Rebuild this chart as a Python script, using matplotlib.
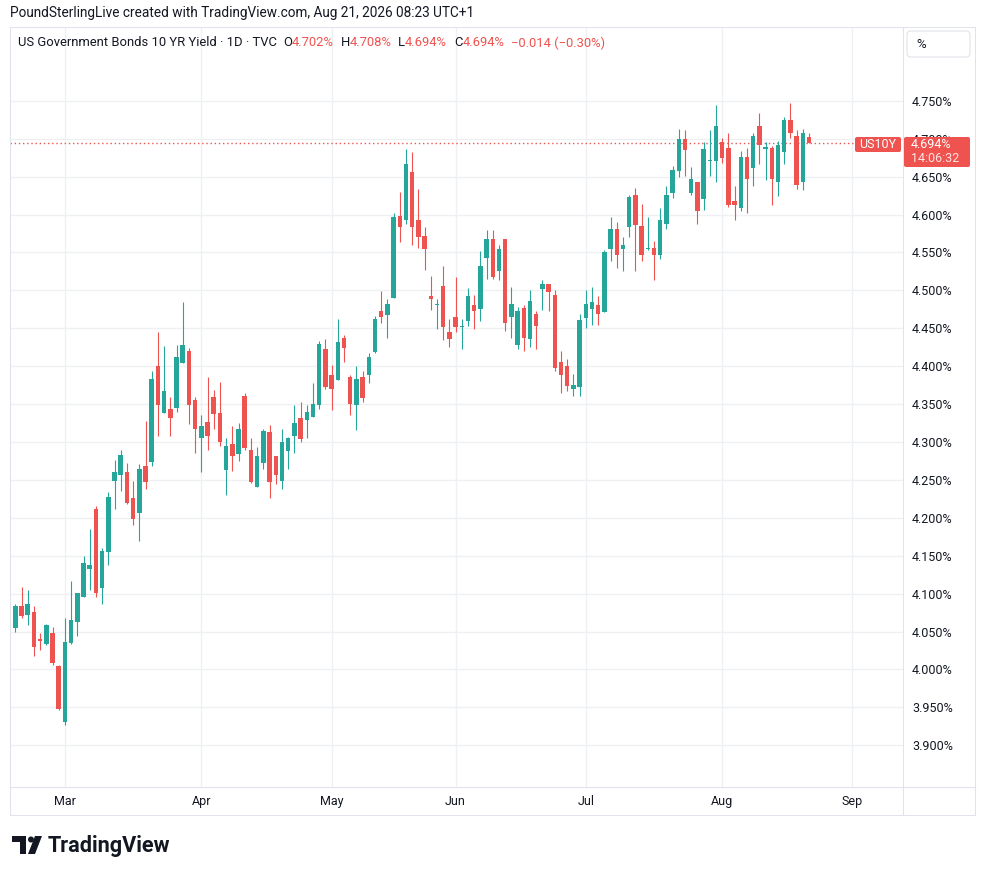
import numpy as np
import pandas as pd
import matplotlib.pyplot as plt
import matplotlib.transforms as mtransforms
from matplotlib.patches import FancyBboxPatch, Polygon, Circle
from matplotlib.lines import Line2D

plt.rcParams['font.family'] = ['Roboto', 'DejaVu Sans']

# trading days (US bond market holidays removed)
holidays = ['2026-04-03', '2026-05-25', '2026-06-19', '2026-07-03']
days = pd.bdate_range('2026-02-17', '2026-09-30')
days = days[~days.isin(pd.to_datetime(holidays))]
month_names = ['Mar', 'Apr', 'May', 'Jun', 'Jul', 'Aug', 'Sep']

opens = [4.044, 4.055, 4.084, 4.072, 4.076, 4.040, 4.033, 4.048, 4.005, 3.931,
         4.035, 4.062, 4.095, 4.133, 4.211, 4.107, 4.155, 4.248, 4.256, 4.261,
         4.226, 4.206, 4.269, 4.274, 4.400, 4.338, 4.344, 4.345, 4.404, 4.420,
         4.356, 4.305, 4.327, 4.360, 4.338, 4.263, 4.298, 4.284, 4.361, 4.290,
         4.241, 4.272, 4.313, 4.282, 4.249, 4.288, 4.308, 4.331, 4.329, 4.333,
         4.349, 4.422, 4.389, 4.382, 4.437, 4.386, 4.349, 4.386, 4.389, 4.419,
         4.473, 4.468, 4.490, 4.598, 4.593, 4.656, 4.593, 4.572, 4.493, 4.481,
         4.506, 4.445, 4.465, 4.452, 4.460, 4.481, 4.476, 4.543, 4.568, 4.526,
         4.568, 4.465, 4.428, 4.477, 4.436, 4.469, 4.502, 4.509, 4.494, 4.406,
         4.400, 4.370, 4.373, 4.464, 4.476, 4.481, 4.472, 4.555, 4.581, 4.555,
         4.584, 4.626, 4.585, 4.555, 4.556, 4.547, 4.587, 4.629, 4.658, 4.699,
         4.629, 4.643, 4.621, 4.670, 4.671, 4.696, 4.688, 4.618, 4.609, 4.676,
         4.662, 4.717, 4.687, 4.688, 4.643, 4.683, 4.725, 4.704, 4.643, 4.702]
highs = [4.065, 4.087, 4.109, 4.105, 4.084, 4.048, 4.060, 4.056, 4.006, 4.068,
         4.117, 4.101, 4.149, 4.185, 4.216, 4.160, 4.234, 4.276, 4.290, 4.272,
         4.249, 4.271, 4.328, 4.393, 4.445, 4.427, 4.360, 4.428, 4.484, 4.424,
         4.360, 4.335, 4.386, 4.368, 4.379, 4.305, 4.321, 4.325, 4.364, 4.305,
         4.294, 4.317, 4.323, 4.282, 4.317, 4.307, 4.349, 4.353, 4.349, 4.378,
         4.433, 4.436, 4.402, 4.462, 4.441, 4.389, 4.400, 4.394, 4.418, 4.466,
         4.499, 4.488, 4.602, 4.630, 4.687, 4.683, 4.634, 4.584, 4.519, 4.489,
         4.532, 4.462, 4.518, 4.462, 4.503, 4.494, 4.552, 4.580, 4.580, 4.560,
         4.568, 4.505, 4.478, 4.481, 4.501, 4.473, 4.513, 4.509, 4.501, 4.420,
         4.410, 4.390, 4.469, 4.501, 4.505, 4.493, 4.553, 4.597, 4.590, 4.571,
         4.626, 4.635, 4.614, 4.597, 4.565, 4.609, 4.638, 4.664, 4.713, 4.712,
         4.663, 4.643, 4.696, 4.712, 4.745, 4.701, 4.708, 4.638, 4.684, 4.688,
         4.708, 4.734, 4.696, 4.691, 4.697, 4.729, 4.747, 4.712, 4.713, 4.708]
lows = [4.042, 4.049, 4.068, 4.059, 4.018, 4.026, 4.032, 4.006, 3.946, 3.927,
        4.034, 4.044, 4.095, 4.105, 4.095, 4.087, 4.138, 4.211, 4.235, 4.218,
        4.191, 4.170, 4.238, 4.269, 4.308, 4.338, 4.308, 4.340, 4.404, 4.324,
        4.286, 4.261, 4.290, 4.317, 4.295, 4.230, 4.262, 4.275, 4.290, 4.246,
        4.241, 4.265, 4.226, 4.245, 4.238, 4.265, 4.286, 4.300, 4.305, 4.333,
        4.344, 4.370, 4.342, 4.382, 4.406, 4.335, 4.316, 4.353, 4.378, 4.418,
        4.457, 4.437, 4.490, 4.564, 4.587, 4.560, 4.556, 4.527, 4.474, 4.449,
        4.435, 4.425, 4.445, 4.422, 4.453, 4.449, 4.459, 4.515, 4.515, 4.513,
        4.447, 4.437, 4.422, 4.420, 4.425, 4.422, 4.474, 4.473, 4.394, 4.365,
        4.367, 4.361, 4.361, 4.450, 4.454, 4.454, 4.472, 4.539, 4.529, 4.525,
        4.570, 4.525, 4.539, 4.553, 4.513, 4.541, 4.581, 4.622, 4.650, 4.651,
        4.626, 4.588, 4.606, 4.651, 4.643, 4.668, 4.610, 4.593, 4.605, 4.602,
        4.638, 4.667, 4.646, 4.613, 4.625, 4.667, 4.701, 4.634, 4.633, 4.694]
closes = [4.063, 4.084, 4.071, 4.086, 4.030, 4.037, 4.059, 4.009, 3.948, 4.036,
          4.065, 4.101, 4.141, 4.138, 4.101, 4.156, 4.228, 4.261, 4.283, 4.219,
          4.199, 4.265, 4.247, 4.383, 4.349, 4.367, 4.331, 4.412, 4.428, 4.349,
          4.317, 4.321, 4.308, 4.337, 4.300, 4.295, 4.282, 4.317, 4.292, 4.247,
          4.282, 4.315, 4.247, 4.257, 4.300, 4.305, 4.325, 4.304, 4.340, 4.350,
          4.429, 4.373, 4.370, 4.432, 4.424, 4.350, 4.383, 4.358, 4.412, 4.462,
          4.465, 4.482, 4.597, 4.584, 4.667, 4.584, 4.571, 4.555, 4.489, 4.482,
          4.452, 4.436, 4.452, 4.453, 4.493, 4.473, 4.532, 4.568, 4.517, 4.554,
          4.457, 4.482, 4.473, 4.437, 4.486, 4.453, 4.509, 4.498, 4.397, 4.389,
          4.374, 4.375, 4.461, 4.482, 4.485, 4.469, 4.551, 4.581, 4.547, 4.560,
          4.623, 4.586, 4.547, 4.556, 4.547, 4.593, 4.626, 4.659, 4.699, 4.685,
          4.647, 4.605, 4.687, 4.672, 4.717, 4.675, 4.613, 4.613, 4.676, 4.647,
          4.704, 4.692, 4.688, 4.647, 4.692, 4.725, 4.707, 4.639, 4.708, 4.694]

GREEN = '#26a69a'
RED = '#ef5350'
TEXT = '#131722'
BORDER = '#e0e3eb'
GRID = '#eef0f3'

W, H = 985, 875
fig = plt.figure(figsize=(W / 100, H / 100), dpi=100)
fig.patch.set_facecolor('white')
# pixel coords, y measured from the top
pix = mtransforms.Affine2D().scale(1, -1).translate(0, H)

ax = fig.add_axes([10 / W, 1 - 787 / H, 893 / W, 759 / H])
for s in ax.spines.values():
    s.set_visible(False)

o = np.array(opens)
hi = np.array(highs)
lo = np.array(lows)
c = np.array(closes)
idx = np.arange(len(c))
cols = np.where(c >= o, GREEN, RED)

ax.vlines(idx, lo, hi, colors=cols, linewidth=0.8, zorder=3)
body_h = np.maximum(np.abs(c - o), 0.0014)
ax.bar(idx, body_h, bottom=np.minimum(o, c), width=0.72, color=cols,
       linewidth=0, zorder=4)

# month ticks at first trading day
month_pos = [int(np.argmax(days.month == m)) for m in range(3, 10)]
ax.set_xticks(month_pos)
ax.set_xticklabels(month_names)
yt = np.round(np.arange(3.90, 4.751, 0.05), 3)
ax.set_yticks(yt)
ax.set_yticklabels([f'{v:.3f}%' for v in yt])
ax.yaxis.tick_right()
ax.tick_params(axis='y', length=0, pad=6.5, labelsize=9, labelcolor=TEXT)
ax.tick_params(axis='x', length=0, pad=6, labelsize=9, labelcolor=TEXT)
ax.grid(color=GRID, linewidth=1)
ax.set_axisbelow(True)
ax.set_xlim(0.145, 144.16)
ax.set_ylim(3.845, 4.846)

last = closes[-1]
ax.axhline(last, xmax=(855 - 10) / 893, color=RED, linewidth=1,
           linestyle=(0, (1, 2)), zorder=2)

# frame
for xs, ys in [([10, 975], [27, 27]), ([10, 975], [815, 815]),
               ([10, 10], [27, 815]), ([975, 975], [27, 815]),
               ([903, 903], [27, 815]), ([10, 975], [787, 787])]:
    fig.add_artist(Line2D(xs, ys, color=BORDER, linewidth=0.75, transform=pix))

fig.text(10, 13, 'PoundSterlingLive created with TradingView.com, Aug 21, 2026 08:23 UTC+1',
         fontsize=9.8, color=TEXT, va='center', ha='left', transform=pix)

# legend row
chg = closes[-1] - closes[-2]
pct = chg / closes[-2] * 100
pieces = [('US Government Bonds 10 YR Yield · 1D · TVC', TEXT, 6),
          ('O', TEXT, 0), (f'{opens[-1]:.3f}%', RED, 7),
          ('H', TEXT, 0), (f'{highs[-1]:.3f}%', RED, 6),
          ('L', TEXT, 0), (f'{lows[-1]:.3f}%', RED, 7),
          ('C', TEXT, 0), (f'{closes[-1]:.3f}%', RED, 7),
          (f'{chg:+.3f} ({pct:+.2f}%)'.replace('-', '\u2212'), RED, 0)]
r = fig.canvas.get_renderer()
x = 18
for txt, col, gap in pieces:
    t = fig.text(x, 43, txt, fontsize=9.4, color=col, va='center', ha='left',
                 transform=pix)
    x += t.get_window_extent(renderer=r).width + gap

fig.add_artist(FancyBboxPatch((907, 31), 63, 26, boxstyle='round,pad=0,rounding_size=4',
                              facecolor='white', edgecolor=BORDER, linewidth=0.8,
                              transform=pix))
fig.text(916, 44, '%', fontsize=9.5, color=TEXT, va='center', ha='left', transform=pix)

# last price labels
fig.add_artist(FancyBboxPatch((855, 137), 46, 15, boxstyle='round,pad=0,rounding_size=2',
                              facecolor=RED, edgecolor='none', transform=pix, zorder=5))
fig.text(878, 144.5, 'US10Y', fontsize=9, color='white', va='center', ha='center',
         transform=pix, zorder=6)
fig.add_artist(FancyBboxPatch((904, 137), 66, 30, boxstyle='round,pad=0,rounding_size=2',
                              facecolor=RED, edgecolor='none', transform=pix, zorder=5))
fig.text(911, 145, f'{last:.3f}%', fontsize=9, color='white', va='center', ha='left',
         transform=pix, zorder=6)
fig.text(911, 159, '14:06:32', fontsize=9, color='#fde3e2', va='center', ha='left',
         transform=pix, zorder=6)

# TradingView logo
fig.add_artist(Polygon([(12, 836), (26, 836), (26, 854), (20, 854), (20, 842), (12, 842)],
                       closed=True, facecolor=TEXT, edgecolor='none', transform=pix))
fig.add_artist(Circle((31, 839.5), 3, facecolor=TEXT, edgecolor='none', transform=pix))
fig.add_artist(Polygon([(28, 854), (35, 836), (42, 836), (35, 854)],
                       closed=True, facecolor=TEXT, edgecolor='none', transform=pix))
fig.text(48, 846, 'TradingView', fontsize=15.6, fontweight='bold', color=TEXT,
         va='center', ha='left', transform=pix)

fig.savefig('out.png', dpi=100)
